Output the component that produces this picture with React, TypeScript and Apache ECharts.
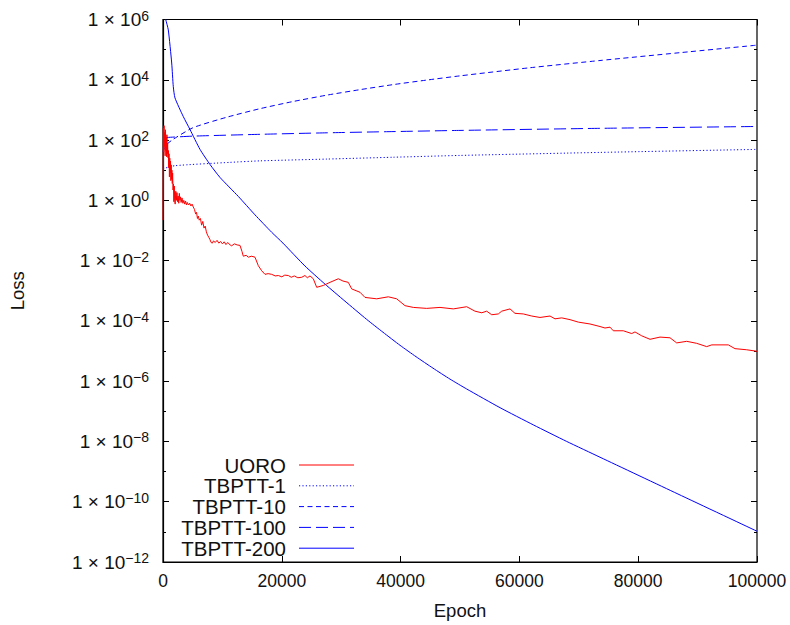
import { useEffect, useRef } from 'react';
import * as echarts from 'echarts';

const seriesNames = ['UORO', 'TBPTT-1', 'TBPTT-10', 'TBPTT-100', 'TBPTT-200'];

const uoro: [number, number][] = [
  [0, 0.22], [60, 250], [120, 40], [180, 300], [240, 60], [300, 180], [360, 30], [420, 220], [480, 45],
  [540, 120], [600, 28], [660, 150], [720, 35], [780, 80], [840, 26], [900, 45], [960, 12], [1020, 35],
  [1080, 6], [1140, 25], [1200, 8], [1260, 20], [1320, 4.5], [1380, 15], [1440, 5], [1500, 10], [1560, 3.6],
  [1620, 8], [1690, 2.2], [1760, 3.5], [1830, 0.9], [1900, 3], [1970, 1.0], [2050, 0.75], [2150, 2.0],
  [2250, 1.0], [2350, 1.8], [2450, 0.9], [2550, 1.4], [2650, 0.8], [2750, 1.7], [2850, 1.0], [2950, 1.3],
  [3050, 0.85], [3200, 1.2], [3350, 0.8], [3500, 1.0], [3650, 0.75], [3800, 0.95], [3950, 0.7], [4100, 0.85],
  [4300, 0.7], [4500, 0.8], [4700, 0.65], [4900, 0.75], [5100, 0.6], [5300, 0.5], [5500, 0.35], [5650, 0.4],
  [5800, 0.25], [5950, 0.3], [6100, 0.22], [6300, 0.25], [6500, 0.15], [6700, 0.2], [6900, 0.12], [7100, 0.14],
  [7300, 0.09], [7500, 0.07], [7700, 0.06], [7900, 0.05], [8100, 0.04], [8300, 0.038], [8500, 0.045],
  [8800, 0.04], [9100, 0.047], [9400, 0.038], [9700, 0.043], [10000, 0.036], [10300, 0.042], [10600, 0.034],
  [10900, 0.04], [11300, 0.033], [11566, 0.031], [12000, 0.036], [12500, 0.033], [12963, 0.032], [13300, 0.02],
  [13519, 0.014], [14000, 0.015], [14360, 0.013], [14900, 0.014], [15488, 0.013], [16044, 0.0068],
  [16616, 0.0046], [17172, 0.0035], [17700, 0.0037], [18300, 0.0035], [18900, 0.0031], [19411, 0.0032],
  [20000, 0.0029], [20500, 0.0033], [21094, 0.0032], [21600, 0.0028], [22100, 0.0031], [22700, 0.0027],
  [23350, 0.0028], [23900, 0.0032], [24300, 0.0027], [24747, 0.0031], [25303, 0.0025], [25875, 0.0013],
  [26986, 0.0015], [28114, 0.0019], [29512, 0.0025], [30300, 0.0021], [31195, 0.0019], [31768, 0.00115],
  [33165, 0.00089], [34007, 0.0006], [35977, 0.00054], [37929, 0.00063], [39343, 0.00054], [40741, 0.00032],
  [42138, 0.00028], [44394, 0.00026], [46633, 0.00028], [48872, 0.00025], [51128, 0.000295], [52525, 0.00021],
  [53653, 0.000186], [54495, 0.00021], [55337, 0.00016], [56448, 0.00017], [57020, 0.00021], [58418, 0.00025],
  [59259, 0.000178], [60657, 0.00017], [62071, 0.000145], [63468, 0.00013], [65152, 0.000145],
  [65993, 0.000117], [67121, 0.000126], [68519, 0.00011], [69916, 9.1e-5], [71885, 7.9e-5], [73569, 6.5e-5],
  [74411, 5.8e-5], [75253, 6.2e-5], [75808, 4.7e-5], [77492, 4.7e-5], [78906, 3.8e-5], [79461, 4.3e-5],
  [80589, 3.2e-5], [81987, 2.45e-5], [83670, 2.9e-5], [85354, 2.75e-5], [86481, 1.86e-5], [88165, 2.1e-5],
  [89848, 1.8e-5], [91532, 1.4e-5], [92374, 1.6e-5], [95168, 1.6e-5], [96296, 1.2e-5], [98266, 1.1e-5],
  [100000, 9.8e-6],
];

const tbptt1: [number, number][] = [
  [0, 11.2], [2000, 14.1], [11280, 18.2], [16330, 20.4], [27610, 23.4], [38720, 26.9], [50000, 30.9],
  [73570, 38.9], [100000, 49],
];

const tbptt10: [number, number][] = [
  [0, 42], [620, 71], [1680, 105], [5050, 257], [10770, 575], [16330, 1100], [21890, 1900], [27610, 3100],
  [33160, 4700], [38720, 6900], [44440, 9800], [50000, 13500], [61780, 25100], [73570, 43600],
  [87040, 79400], [100000, 141000],
];

const tbptt100: [number, number][] = [
  [0, 120], [5050, 135], [16330, 155], [27610, 174], [38720, 191], [50000, 209], [73570, 245], [100000, 282],
];

const tbptt200: [number, number][] = [
  [200, 1.4e6], [455, 1e6], [892, 4.5e5], [1465, 3.6e4], [1734, 5.9e3], [2020, 2.5e3], [3418, 600],
  [4545, 224], [6229, 49], [7912, 15.5], [9596, 5.75], [12677, 1.35], [15488, 0.33], [18300, 0.087],
  [20200, 0.038], [23906, 6.6e-3], [27273, 1.66e-3], [30640, 4.5e-4], [34293, 1.12e-4], [37037, 4.2e-5],
  [39900, 1.55e-5], [42593, 6.5e-6], [45455, 2.7e-6], [48316, 1.17e-6], [51128, 5.5e-7], [56734, 1.32e-7],
  [62340, 3.55e-8], [67963, 1.0e-8], [73569, 3.0e-9], [86700, 1.8e-10], [100000, 1.05e-11],
];

const FONT = 'Liberation Sans';

export default function App() {
  const ref = useRef<HTMLDivElement>(null);
  useEffect(() => {
    const chart = echarts.init(ref.current!, null, { renderer: 'svg' });
    const dataSets = [uoro, tbptt1, tbptt10, tbptt100, tbptt200];
    const colors = ['#ff0000', '#0000ff', '#0000ff', '#0000ff', '#0000ff'];
    const dashes: any[] = ['solid', [1.2, 2.2], [5, 3.5], [12, 5], 'solid'];
    const smooths = [false, 0.2, 0.2, 0.2, 0.2];

    const gridLeft = 163, gridTop = 19.5, gridRight = 757, gridBottom = 565;

    const yLabelFormatter = (v: number) => {
      const e = Math.round(Math.log10(v));
      const s = e < 0 ? '\u2212' + String(-e) : String(e);
      return `{a|1 \u00d7 10}{s|${s}}`;
    };

    const baseY = {
      type: 'log',
      logBase: 10,
      min: 1e-12,
      max: 1e6,
      splitLine: { show: false },
      axisLine: { show: false },
    };

    const legendTop = 465;
    const legendStep = 20.8;
    const graphic: any[] = [];
    seriesNames.forEach((name, i) => {
      const y = legendTop + i * legendStep;
      graphic.push({
        type: 'text',
        x: 286,
        y,
        style: {
          text: name,
          fill: '#111',
          fontSize: 20.5,
          fontFamily: FONT,
          align: 'right',
          verticalAlign: 'middle',
        },
      });
      graphic.push({
        type: 'line',
        shape: { x1: 299, y1: y, x2: 354, y2: y },
        style: {
          stroke: colors[i],
          lineWidth: 1,
          lineDash: Array.isArray(dashes[i]) ? dashes[i] : null,
        },
      });
    });

    const option: any = {
      animation: false,
      backgroundColor: '#fff',
      grid: {
        left: gridLeft,
        top: gridTop,
        right: 790 - gridRight,
        bottom: 625 - gridBottom,
        show: true,
        borderColor: '#000',
        borderWidth: 1.2,
        backgroundColor: 'transparent',
      },
      xAxis: [
        {
          type: 'value',
          min: 0,
          max: 100000,
          interval: 20000,
          position: 'bottom',
          name: 'Epoch',
          nameLocation: 'middle',
          nameGap: 39,
          nameTextStyle: { fontSize: 18.5, fontFamily: FONT, color: '#111' },
          axisLine: { show: true, lineStyle: { color: '#000', width: 1.2 } },
          axisTick: { show: true, inside: true, length: 6, lineStyle: { color: '#000' } },
          axisLabel: {
            fontSize: 17.5,
            fontFamily: FONT,
            color: '#111',
            margin: 10,
            formatter: (v: number) => String(v),
          },
          splitLine: { show: false },
        },
        {
          type: 'value',
          min: 0,
          max: 100000,
          interval: 20000,
          position: 'top',
          axisLine: { show: false },
          axisTick: { show: true, inside: true, length: 6, lineStyle: { color: '#000' } },
          axisLabel: { show: false },
          splitLine: { show: false },
        },
      ],
      yAxis: [
        {
          ...baseY,
          interval: 2,
          position: 'left',
          name: 'Loss',
          nameLocation: 'middle',
          nameGap: 136,
          nameTextStyle: { fontSize: 18.5, fontFamily: FONT, color: '#111' },
          axisLine: { show: true, lineStyle: { color: '#000', width: 1.2 } },
          axisTick: { show: true, inside: true, length: 6, lineStyle: { color: '#000' } },
          axisLabel: {
            margin: 14,
            color: '#111',
            formatter: yLabelFormatter,
            rich: {
              a: { fontSize: 19, lineHeight: 22, fontFamily: FONT, color: '#111' },
              s: { fontSize: 14, lineHeight: 14, fontFamily: FONT, color: '#111', verticalAlign: 'top' },
            },
          },
        },
        {
          ...baseY,
          interval: 1,
          position: 'left',
          axisTick: { show: true, inside: true, length: 3, lineStyle: { color: '#000' } },
          axisLabel: { show: false },
        },
        {
          ...baseY,
          interval: 2,
          position: 'right',
          axisTick: { show: true, inside: true, length: 6, lineStyle: { color: '#000' } },
          axisLabel: { show: false },
        },
        {
          ...baseY,
          interval: 1,
          position: 'right',
          axisTick: { show: true, inside: true, length: 3, lineStyle: { color: '#000' } },
          axisLabel: { show: false },
        },
      ],
      series: seriesNames.map((name, i) => ({
        name,
        type: 'line',
        data: dataSets[i],
        xAxisIndex: 0,
        yAxisIndex: 0,
        showSymbol: false,
        symbol: 'none',
        clip: true,
        smooth: smooths[i],
        lineStyle: { color: colors[i], width: 1, type: dashes[i] },
        z: i === 0 ? 3 : 2,
      })),
      graphic,
    };
    chart.setOption(option);
    return () => chart.dispose();
  }, []);
  return <div ref={ref} style={{ position: 'fixed', left: 0, top: 0, width: 790, height: 625 }} />;
}
